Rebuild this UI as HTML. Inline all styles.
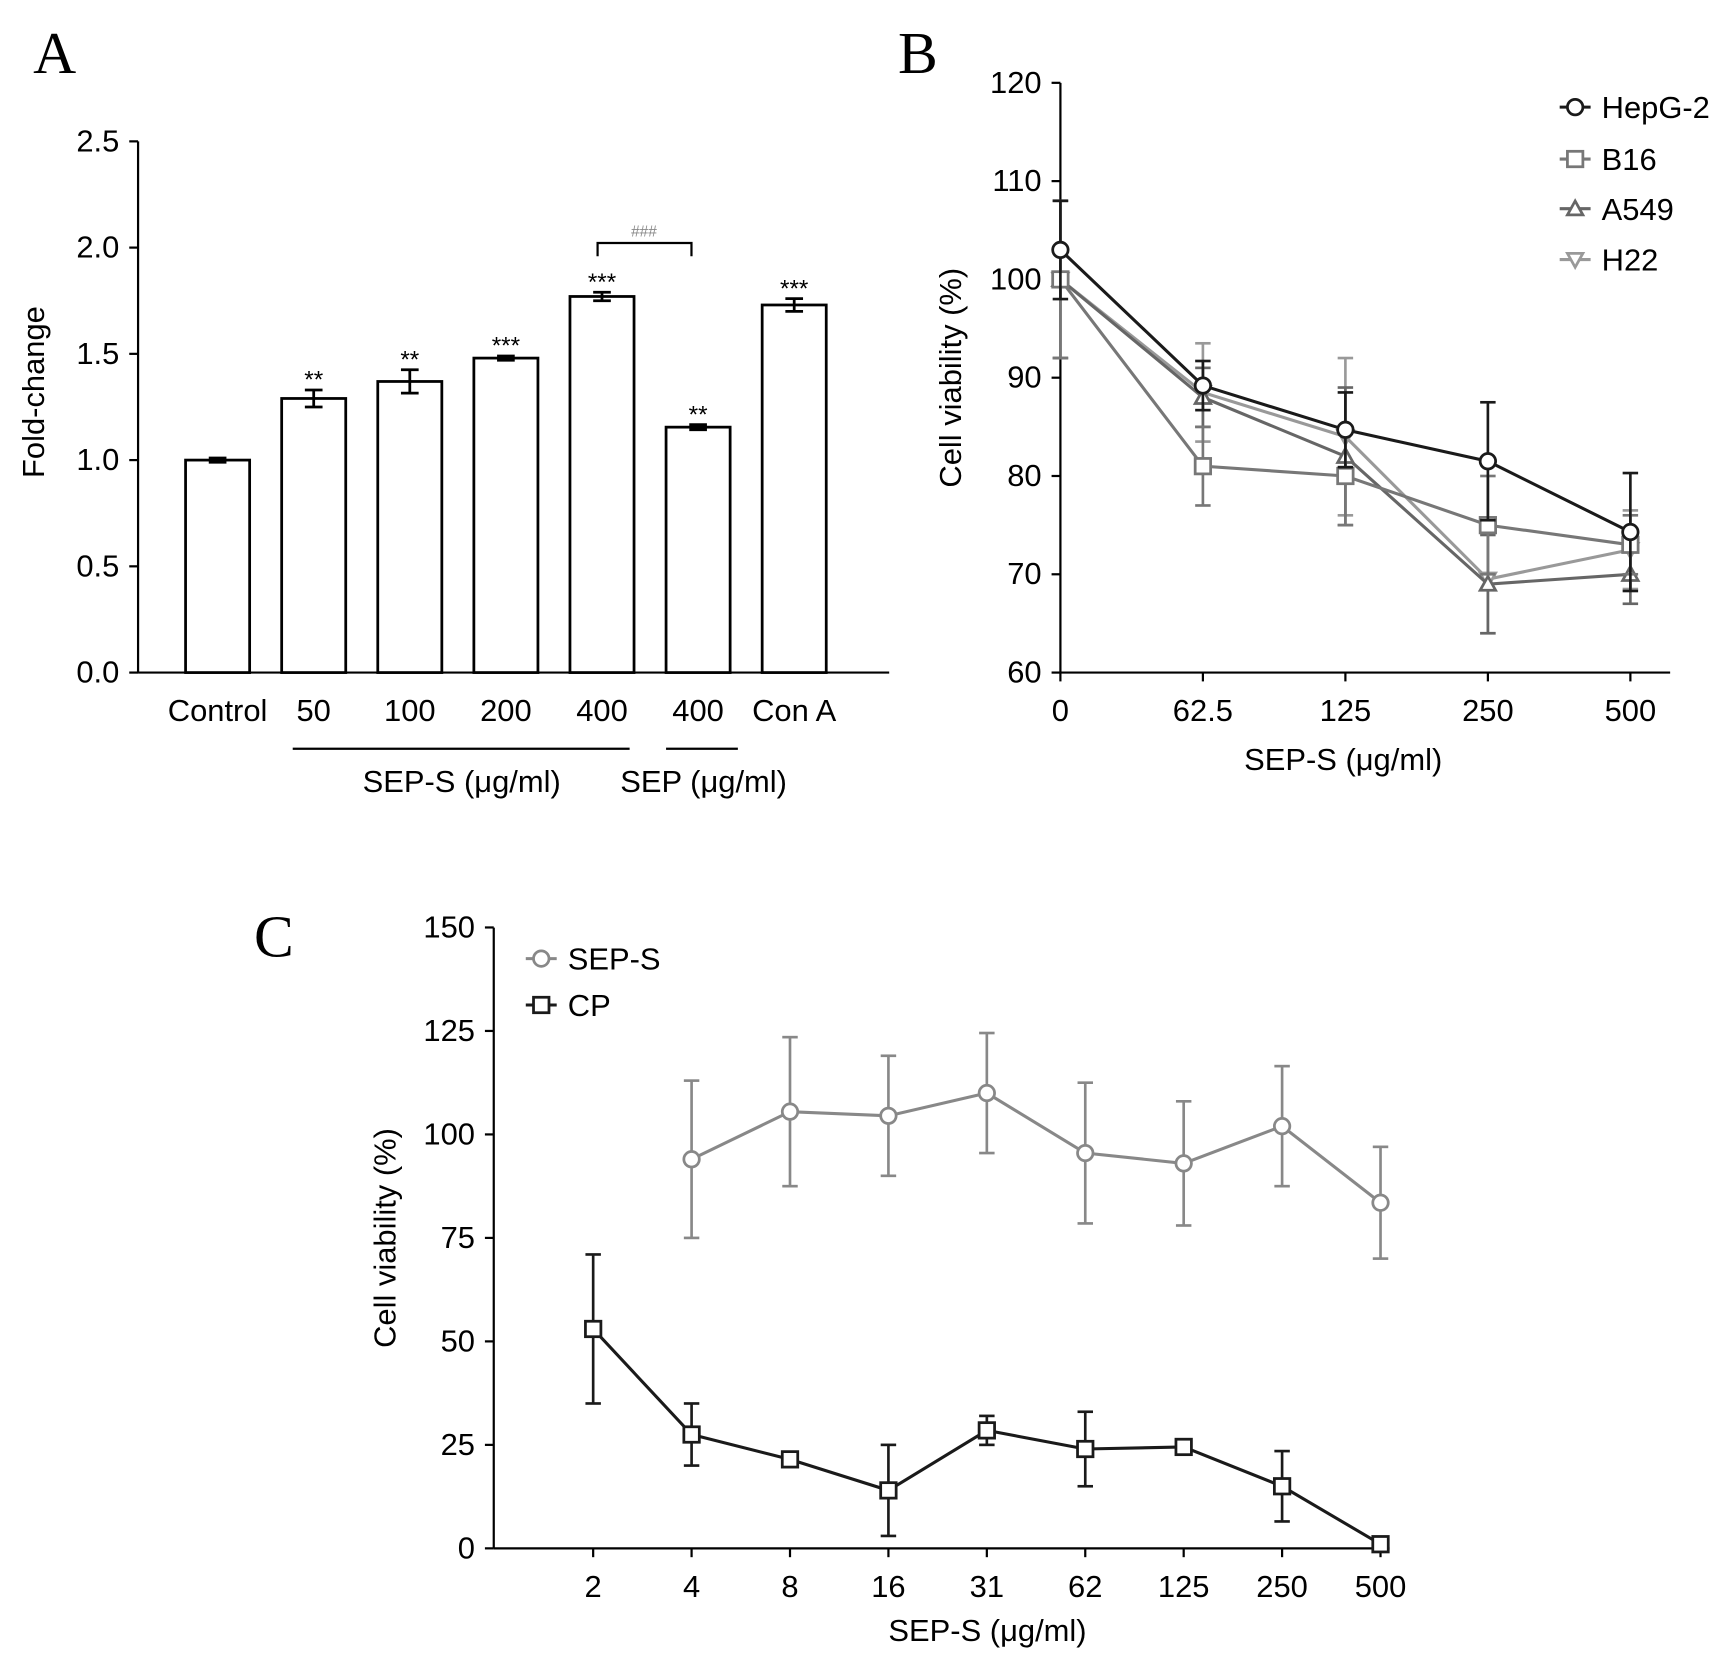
<!DOCTYPE html>
<html><head><meta charset="utf-8"><style>
html,body{margin:0;padding:0;background:#fff;}
svg{display:block;font-family:"Liberation Sans",Arial,sans-serif;}
</style></head><body>
<svg id="fig" width="1732" height="1661" viewBox="0 0 1568 1504" preserveAspectRatio="none" xmlns="http://www.w3.org/2000/svg">
<g id="pa"></g>
<g id="pb"></g>
<g id="pc"></g>
</svg>
<script>
// Panel A data
const aCats = ["Control","50","100","200","400","400","Con A"];
const aVals = [1.0,1.29,1.37,1.48,1.77,1.155,1.73];
const aErrs = [0.01,0.04,0.055,0.01,0.02,0.012,0.03];
const aStars = ["","**","**","***","***","**","***"];
const aTicks = [0,0.5,1.0,1.5,2.0,2.5];
// Panel B data
const bCats = ["0","62.5","125","250","500"];
const bTicks = [60,70,80,90,100,110,120];
const bHep = [103,89.2,84.7,81.5,74.3];
const bHepErr = [5,2.5,3.8,6,6];
const bB16 = [100,81,80,75,73];
const bB16Err = [8,4,5,5,3];
const bA549 = [100,88,82,69,70];
const bA549Err = [8,3,7,5,3];
const bH22 = [100,88.5,84,69.5,72.5];
const bH22Err = [8,5,8,5.5,4];
// Panel C data
const cCats = ["2","4","8","16","31","62","125","250","500"];
const cTicks = [0,25,50,75,100,125,150];
const cSep = [null,94,105.5,104.5,110,95.5,93,102,83.5];
const cSepErr = [0,19,18,14.5,14.5,17,15,14.5,13.5];
const cCp = [53,27.5,21.5,14,28.5,24,24.5,15,1];
const cCpErr = [18,7.5,1,11,3.5,9,1.5,8.5,1];

const NS="http://www.w3.org/2000/svg";
function mk(parent,tag,attrs,text){const e=document.createElementNS(NS,tag);for(const k in attrs)e.setAttribute(k,attrs[k]);if(text!==undefined)e.textContent=text;parent.appendChild(e);return e;}
const FS=28;

// ---------- Panel A ----------
(function(){
const g=document.getElementById('pa');
const yA=v=>609-(v/0.5)*96.2;
const xA=i=>197+i*87;
let t=mk(g,'text',{x:30,y:66,'font-family':'Liberation Serif,serif','font-size':54});t.textContent='A';


mk(g,'line',{x1:125,y1:128,x2:125,y2:609,stroke:'#000','stroke-width':2});
mk(g,'line',{x1:125,y1:609,x2:805,y2:609,stroke:'#000','stroke-width':2});
aTicks.forEach(v=>{mk(g,'line',{x1:117,y1:yA(v),x2:125,y2:yA(v),stroke:'#000','stroke-width':2});
 const l=mk(g,'text',{x:108,y:yA(v)+9,'font-size':FS,'text-anchor':'end'},v.toFixed(1));
 
 });
const yt=mk(g,'text',{x:0,y:0,'font-size':FS,'text-anchor':'middle',transform:'translate(40,355) rotate(-90)'},'Fold-change');


aVals.forEach((v,i)=>{
 const b=mk(g,'rect',{x:xA(i)-29,y:yA(v),width:58,height:609-yA(v),fill:'#fff',stroke:'#000','stroke-width':2.5});
 
 
 const e1=yA(v+aErrs[i]),e2=yA(v-aErrs[i]);
 mk(g,'line',{x1:xA(i),y1:e1,x2:xA(i),y2:e2,stroke:'#000','stroke-width':2.5});
 mk(g,'line',{x1:xA(i)-8,y1:e1,x2:xA(i)+8,y2:e1,stroke:'#000','stroke-width':2.5});
 mk(g,'line',{x1:xA(i)-8,y1:e2,x2:xA(i)+8,y2:e2,stroke:'#000','stroke-width':2.5});
 if(aStars[i]){const s=mk(g,'text',{x:xA(i),y:e1-2,'font-size':22,'text-anchor':'middle'},aStars[i]);
  
  }
 const l=mk(g,'text',{x:xA(i),y:653,'font-size':FS,'text-anchor':'middle'},aCats[i]);
 
 
});
mk(g,'path',{d:`M${xA(4)-4},232 V220 H${xA(5)-6} V232`,fill:'none',stroke:'#000','stroke-width':2});
const h=mk(g,'text',{x:583,y:214,'font-size':14,'text-anchor':'middle',fill:'#888'},'###');


mk(g,'line',{x1:265,y1:678,x2:570,y2:678,stroke:'#000','stroke-width':2});
mk(g,'line',{x1:603,y1:678,x2:668,y2:678,stroke:'#000','stroke-width':2});
let g1=mk(g,'text',{x:418,y:717,'font-size':FS,'text-anchor':'middle'},'SEP-S (μg/ml)');


let g2=mk(g,'text',{x:637,y:717,'font-size':FS,'text-anchor':'middle'},'SEP (μg/ml)');


})();

function marker(g,type,x,y,col){
 const r=7;
 if(type==='c') return mk(g,'circle',{cx:x,cy:y,r:r,fill:'#fff',stroke:col,'stroke-width':2.5});
 if(type==='s') return mk(g,'rect',{x:x-r,y:y-r,width:2*r,height:2*r,fill:'#fff',stroke:col,'stroke-width':2.5});
 if(type==='t') return mk(g,'polygon',{points:`${x},${y-r} ${x-r},${y+r*0.8} ${x+r},${y+r*0.8}`,fill:'#fff',stroke:col,'stroke-width':2.5});
 return mk(g,'polygon',{points:`${x},${y+r} ${x-r},${y-r*0.8} ${x+r},${y-r*0.8}`,fill:'#fff',stroke:col,'stroke-width':2.5});
}
function series(g,xs,vals,errs,ys,col,type,name){
 const sg=mk(g,'g',{});
 
 
 let d='';
 vals.forEach((v,i)=>{if(v===null)return;d+=(d?'L':'M')+xs(i)+','+ys(v);});
 mk(sg,'path',{d:d,fill:'none',stroke:col,'stroke-width':2.8});
 vals.forEach((v,i)=>{if(v===null)return;const x=xs(i),a=ys(v+errs[i]),b=ys(v-errs[i]);
  mk(sg,'line',{x1:x,y1:a,x2:x,y2:b,stroke:col,'stroke-width':2.4});
  mk(sg,'line',{x1:x-7,y1:a,x2:x+7,y2:a,stroke:col,'stroke-width':2.4});
  mk(sg,'line',{x1:x-7,y1:b,x2:x+7,y2:b,stroke:col,'stroke-width':2.4});});
 vals.forEach((v,i)=>{if(v===null)return;marker(sg,type,xs(i),ys(v),col);});
}
function legend(g,x,y,col,type,label,name){
 const lg=mk(g,'g',{});
 
 
 mk(lg,'line',{x1:x-14,y1:y,x2:x+14,y2:y,stroke:col,'stroke-width':2.8});
 marker(lg,type,x,y,col);
 mk(lg,'text',{x:x+24,y:y+10,'font-size':FS},label);
}

// ---------- Panel B ----------
(function(){
const g=document.getElementById('pb');
const yB=v=>609-(v-60)/10*89;
const xB=i=>960+i*129;
let t=mk(g,'text',{x:813,y:66,'font-family':'Liberation Serif,serif','font-size':54},'B');


mk(g,'line',{x1:960,y1:75,x2:960,y2:609,stroke:'#000','stroke-width':2});
mk(g,'line',{x1:960,y1:609,x2:1512,y2:609,stroke:'#000','stroke-width':2});
bTicks.forEach(v=>{mk(g,'line',{x1:952,y1:yB(v),x2:960,y2:yB(v),stroke:'#000','stroke-width':2});
 const l=mk(g,'text',{x:943,y:yB(v)+9,'font-size':FS,'text-anchor':'end'},v);
 
 });
bCats.forEach((c,i)=>{mk(g,'line',{x1:xB(i),y1:609,x2:xB(i),y2:617,stroke:'#000','stroke-width':2});
 const l=mk(g,'text',{x:xB(i),y:653,'font-size':FS,'text-anchor':'middle'},c);
 
 });
let xt=mk(g,'text',{x:1216,y:697,'font-size':FS,'text-anchor':'middle'},'SEP-S (μg/ml)');


let yt=mk(g,'text',{x:0,y:0,'font-size':FS,'text-anchor':'middle',transform:'translate(870,342) rotate(-90)'},'Cell viability (%)');


series(g,xB,bH22,bH22Err,yB,'#999','v','series-h22');
series(g,xB,bA549,bA549Err,yB,'#666','t','series-a549');
series(g,xB,bB16,bB16Err,yB,'#777','s','series-b16');
series(g,xB,bHep,bHepErr,yB,'#1a1a1a','c','series-hepg2');
legend(g,1426,97,'#1a1a1a','c','HepG-2','legend-hepg2');
legend(g,1426,144,'#777','s','B16','legend-b16');
legend(g,1426,189,'#666','t','A549','legend-a549');
legend(g,1426,235,'#999','v','H22','legend-h22');
})();

// ---------- Panel C ----------
(function(){
const g=document.getElementById('pc');
const yC=v=>1402-v/25*93.7;
const xC=i=>537+i*89.1;
let t=mk(g,'text',{x:230,y:866,'font-family':'Liberation Serif,serif','font-size':54},'C');


mk(g,'line',{x1:447,y1:840,x2:447,y2:1402,stroke:'#000','stroke-width':2});
mk(g,'line',{x1:447,y1:1402,x2:1258,y2:1402,stroke:'#000','stroke-width':2});
cTicks.forEach(v=>{mk(g,'line',{x1:439,y1:yC(v),x2:447,y2:yC(v),stroke:'#000','stroke-width':2});
 const l=mk(g,'text',{x:430,y:yC(v)+9,'font-size':FS,'text-anchor':'end'},v);
 
 });
cCats.forEach((c,i)=>{mk(g,'line',{x1:xC(i),y1:1402,x2:xC(i),y2:1410,stroke:'#000','stroke-width':2});
 const l=mk(g,'text',{x:xC(i),y:1446,'font-size':FS,'text-anchor':'middle'},c);
 
 });
let xt=mk(g,'text',{x:894,y:1486,'font-size':FS,'text-anchor':'middle'},'SEP-S (μg/ml)');


let yt=mk(g,'text',{x:0,y:0,'font-size':FS,'text-anchor':'middle',transform:'translate(358,1121) rotate(-90)'},'Cell viability (%)');


series(g,xC,cSep,cSepErr,yC,'#888','c','series-sep-s');
series(g,xC,cCp,cCpErr,yC,'#1a1a1a','s','series-cp');
legend(g,490,868,'#888','c','SEP-S','legend-sep-s');
legend(g,490,910,'#1a1a1a','s','CP','legend-cp');
})();
</script>
</body></html>
